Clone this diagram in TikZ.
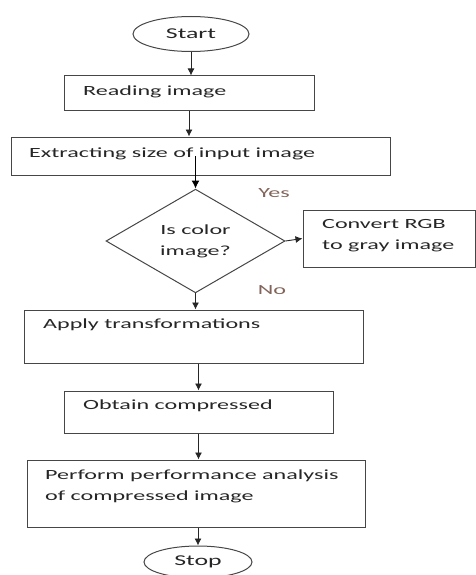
\documentclass[tikz,border=0pt]{standalone}
\usepackage{fontspec}
\setmainfont[FakeStretch=1.72]{Carlito}
\usetikzlibrary{shapes.geometric,arrows.meta}
\definecolor{boxline}{RGB}{70,70,70}
\definecolor{yesno}{RGB}{130,100,90}
\tikzset{
  box/.style={draw=boxline, line width=1pt, rectangle},
  term/.style={draw=boxline, line width=1pt, ellipse, inner sep=0pt, text=black!85, font=\fontsize{15}{17}\selectfont},
  txt/.style={anchor=west, inner sep=0pt, text=black!85, font=\fontsize{14}{21}\selectfont, align=left},
  arr/.style={draw=black!85, line width=0.9pt, -{Latex[length=7pt,width=7pt]}}
}
\begin{document}
\begin{tikzpicture}[x=1pt,y=-1pt]
  \useasboundingbox (0,0) rectangle (476,575);
  % terminals:
  \node[term, minimum width=116pt, minimum height=35pt] (start) at (191,34) {Start};
  \node[term, minimum width=108pt, minimum height=32pt] (stop) at (198,562) {Stop};
  % process boxes:
  \node[box, minimum width=250pt, minimum height=35pt] (read) at (189,93.5) {};
  \node[txt] (readtxt) at (83,92) {Reading image};
  \node[box, minimum width=379pt, minimum height=38pt] (extract) at (200.5,156) {};
  \node[txt] (extracttxt) at (29,154) {Extracting size of input image};
  \node[box, minimum width=172pt, minimum height=57pt] (convert) at (389,238.5) {};
  \node[txt] (converttxt) at (322,236) {Convert RGB\\to gray image};
  \node[box, minimum width=339pt, minimum height=53pt] (apply) at (193.5,336.5) {};
  \node[txt] (applytxt) at (43,325) {Apply transformations};
  \node[box, minimum width=269pt, minimum height=42pt] (obtain) at (198.5,412) {};
  \node[txt] (obtaintxt) at (83,406) {Obtain compressed};
  \node[box, minimum width=338pt, minimum height=67pt] (perform) at (196,493.5) {};
  \node[txt] (performtxt) at (45,486) {Perform performance analysis\\of compressed image};
  % decision:
  \node[draw=boxline, line width=1pt, diamond, minimum width=179pt, minimum height=81pt,
        inner sep=0pt, align=center, text=black!85, font=\fontsize{14}{21}\selectfont] (color) at (195.5,241) {Is color\\image?};
  \node[font=\fontsize{14}{16}\selectfont, text=yesno] (yes) at (274,193) {Yes};
  \node[font=\fontsize{14}{16}\selectfont, text=yesno] (no) at (272,290) {No};
  % connectors:
  \draw[arr] (start.south) -- (start.south |- read.north);
  \draw[arr] (read.south) -- (read.south |- extract.north);
  \draw[draw=black, line width=1.5pt, -{Latex[length=8pt,width=8pt]}] (color.north |- extract.center) -- (color.north);
  \draw[arr] (color.east) -- (convert.west);
  \draw[arr] (color.south) -- (color.south |- apply.north);
  \draw[arr] (apply.south -| obtain.north) -- (obtain.north);
  \draw[arr] (obtain.south) -- (obtain.south |- perform.north);
  \draw[arr] (perform.south -| stop.north) -- (stop.north);
\end{tikzpicture}
\end{document}
